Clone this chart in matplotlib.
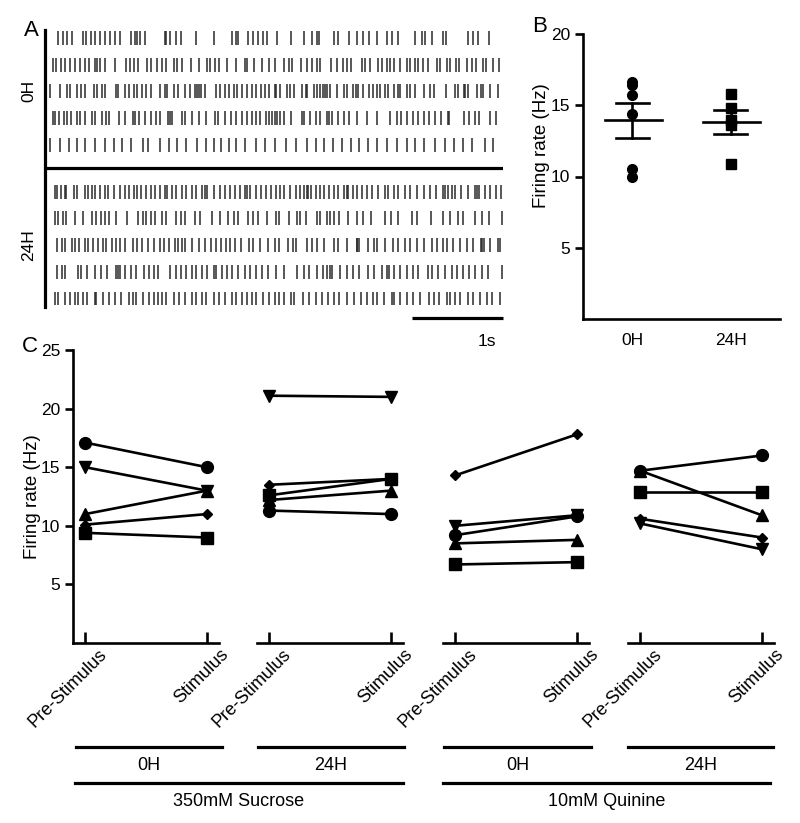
import numpy as np
import matplotlib
matplotlib.use("Agg")
import matplotlib.pyplot as plt
from matplotlib.lines import Line2D
from matplotlib.transforms import ScaledTranslation

plt.rcParams['font.family'] = ['Liberation Sans', 'DejaVu Sans']

# ---------------- Panel A: spike rasters (times in s) ----------------
spikes_0h = [
    [0.09,0.14,0.19,0.24,0.36,0.40,0.45,0.50,0.55,0.60,0.66,0.71,0.77,0.89,0.93,0.96,0.99,1.04,1.26,1.28,1.32,1.38,1.44,1.60,1.80,2.00,2.05,2.07,2.18,2.23,2.29,2.34,2.39,2.49,2.65,2.79,2.88,2.93,2.96,3.12,3.17,3.29,3.37,3.44,3.51,3.59,3.71,3.76,3.83,4.01,4.09,4.12,4.20,4.32,4.35,4.60,4.65,4.71,4.83],
    [0.03,0.07,0.12,0.17,0.22,0.28,0.33,0.38,0.43,0.49,0.52,0.55,0.61,0.72,0.83,0.88,0.92,0.97,1.07,1.11,1.18,1.23,1.27,1.36,1.40,1.45,1.55,1.64,1.73,1.76,1.81,1.86,1.95,2.04,2.14,2.17,2.24,2.33,2.41,2.47,2.57,2.63,2.66,2.76,2.82,2.88,2.93,2.97,3.09,3.15,3.22,3.27,3.31,3.43,3.46,3.52,3.61,3.65,3.70,3.74,3.78,3.85,3.93,3.96,4.01,4.05,4.10,4.16,4.25,4.29,4.36,4.40,4.46,4.50,4.58,4.64,4.68,4.76,4.79,4.87,4.94],
    [0.00,0.11,0.19,0.22,0.30,0.34,0.39,0.48,0.52,0.57,0.60,0.73,0.75,0.82,0.87,0.92,0.96,1.01,1.06,1.11,1.21,1.26,1.29,1.36,1.41,1.48,1.54,1.59,1.62,1.64,1.66,1.70,1.83,1.87,1.92,1.97,2.02,2.06,2.11,2.17,2.22,2.26,2.32,2.36,2.41,2.47,2.48,2.53,2.60,2.64,2.68,2.77,2.81,2.82,2.90,2.93,2.97,3.00,3.02,3.05,3.08,3.15,3.23,3.26,3.33,3.36,3.39,3.44,3.51,3.55,3.59,3.63,3.68,3.72,3.78,3.83,3.85,3.92,3.96,4.01,4.11,4.18,4.22,4.35,4.45,4.49,4.55,4.56,4.60,4.69,4.74,4.76,4.84,4.93],
    [0.03,0.06,0.10,0.15,0.19,0.23,0.30,0.33,0.39,0.46,0.50,0.57,0.62,0.65,0.76,0.82,0.91,0.93,0.98,1.04,1.11,1.17,1.21,1.30,1.32,1.34,1.45,1.48,1.56,1.64,1.71,1.81,1.85,1.92,1.99,2.04,2.11,2.17,2.22,2.26,2.31,2.38,2.41,2.44,2.47,2.49,2.53,2.57,2.65,2.77,2.79,2.86,2.92,2.97,3.05,3.07,3.10,3.17,3.23,3.29,3.37,3.48,3.59,3.74,3.81,3.86,3.92,3.99,4.05,4.11,4.17,4.23,4.30,4.37,4.39,4.55,4.61,4.67,4.72,4.84,4.90],
    [0.00,0.11,0.21,0.30,0.39,0.49,0.61,0.70,0.79,0.89,1.02,1.08,1.21,1.31,1.40,1.50,1.62,1.71,1.80,1.88,1.97,2.05,2.14,2.26,2.36,2.47,2.59,2.70,2.82,2.92,3.01,3.11,3.21,3.31,3.40,3.50,3.60,3.70,3.81,3.92,4.01,4.11,4.23,4.34,4.44,4.54,4.64,4.78,4.87],
]
spikes_24h = [
    [0.05,0.08,0.12,0.16,0.18,0.26,0.30,0.39,0.42,0.46,0.50,0.55,0.60,0.64,0.70,0.77,0.82,0.87,0.92,0.96,1.00,1.06,1.11,1.15,1.21,1.26,1.29,1.34,1.38,1.45,1.50,1.56,1.61,1.67,1.70,1.73,1.80,1.87,1.92,1.98,2.03,2.09,2.14,2.17,2.20,2.26,2.32,2.37,2.43,2.48,2.53,2.57,2.64,2.70,2.75,2.79,2.82,2.84,2.87,2.92,2.97,3.01,3.07,3.12,3.17,3.23,3.26,3.28,3.33,3.38,3.43,3.49,3.54,3.61,3.68,3.72,3.78,3.83,3.90,3.96,4.04,4.11,4.18,4.24,4.32,4.34,4.38,4.42,4.45,4.52,4.60,4.67,4.69,4.72,4.78,4.84,4.90,4.96],
    [0.05,0.09,0.14,0.18,0.27,0.36,0.46,0.51,0.56,0.60,0.65,0.73,0.85,0.97,1.02,1.06,1.11,1.15,1.23,1.28,1.39,1.44,1.48,1.59,1.65,1.78,1.87,1.96,2.02,2.07,2.18,2.23,2.29,2.39,2.48,2.52,2.63,2.71,2.75,2.81,2.93,2.97,3.04,3.08,3.12,3.18,3.28,3.38,3.44,3.53,3.68,3.75,3.83,3.98,4.03,4.19,4.32,4.40,4.49,4.54,4.67,4.75,4.83,4.97],
    [0.08,0.13,0.17,0.24,0.28,0.32,0.38,0.42,0.47,0.53,0.58,0.62,0.68,0.73,0.77,0.82,0.91,0.96,1.01,1.08,1.14,1.21,1.25,1.31,1.37,1.41,1.45,1.48,1.56,1.64,1.70,1.77,1.82,1.88,1.94,1.98,2.03,2.10,2.19,2.23,2.31,2.40,2.47,2.52,2.62,2.67,2.70,2.82,2.88,2.93,3.01,3.12,3.17,3.27,3.37,3.38,3.40,3.50,3.56,3.59,3.68,3.77,3.83,3.90,3.96,4.03,4.11,4.20,4.25,4.32,4.36,4.43,4.51,4.58,4.65,4.74,4.75,4.77,4.84,4.93,4.95],
    [0.08,0.13,0.17,0.31,0.34,0.41,0.49,0.56,0.63,0.73,0.75,0.77,0.82,0.89,0.95,1.03,1.09,1.14,1.19,1.32,1.38,1.44,1.49,1.56,1.61,1.67,1.73,1.80,1.83,1.89,1.95,2.00,2.07,2.14,2.20,2.26,2.33,2.40,2.48,2.57,2.71,2.79,2.85,2.93,3.00,3.04,3.08,3.10,3.19,3.26,3.33,3.40,3.50,3.56,3.65,3.71,3.73,3.78,3.85,3.92,3.99,4.05,4.16,4.20,4.27,4.34,4.42,4.47,4.54,4.61,4.67,4.75,4.82,4.97],
    [0.05,0.09,0.17,0.22,0.27,0.31,0.36,0.41,0.49,0.51,0.58,0.65,0.71,0.78,0.87,0.91,0.95,1.02,1.09,1.14,1.19,1.23,1.28,1.36,1.42,1.48,1.56,1.61,1.67,1.72,1.80,1.86,1.92,2.00,2.04,2.11,2.17,2.22,2.27,2.34,2.41,2.47,2.52,2.57,2.65,2.68,2.78,2.85,2.92,2.99,3.06,3.12,3.18,3.26,3.34,3.42,3.48,3.55,3.59,3.67,3.76,3.78,3.85,3.92,3.99,4.07,4.17,4.22,4.28,4.36,4.40,4.45,4.51,4.59,4.65,4.73,4.80,4.86,4.95],
]
raster_groups = ['0H', '24H']
scale_bar_s = 1.0

# ---------------- Panel B ----------------
b_groups = ['0H', '24H']
b_0h = [16.6, 16.4, 15.7, 14.4, 10.5, 10.0]
b_24h = [15.8, 14.8, 14.0, 13.6, 10.9]

# ---------------- Panel C ----------------
c_conditions = ['Pre-Stimulus', 'Stimulus']
c_markers = ['v', '^', 'D', 's', 'o']
suc_0h_pre = [15.0, 11.0, 10.1, 9.4, 17.1]
suc_0h_post = [13.0, 13.0, 11.0, 9.0, 15.0]
suc_24h_pre = [21.1, 12.2, 13.5, 12.6, 11.3]
suc_24h_post = [21.0, 13.0, 14.0, 14.0, 11.0]
qui_0h_pre = [10.0, 8.5, 14.3, 6.7, 9.2]
qui_0h_post = [10.9, 8.8, 17.8, 6.9, 10.8]
qui_24h_pre = [10.2, 14.7, 10.6, 12.9, 14.7]
qui_24h_post = [8.0, 10.9, 9.0, 12.9, 16.0]
c_time_labels = ['0H', '24H', '0H', '24H']
c_solutions = ['350mM Sucrose', '10mM Quinine']

W, H = 800, 823
fig = plt.figure(figsize=(W / 100, H / 100), dpi=100)


def box(x0, y0, x1, y1):
    return [x0 / W, 1 - y1 / H, (x1 - x0) / W, (y1 - y0) / H]


def fx(x):
    return x / W


def fy(y):
    return 1 - y / H


LW = 1.9
FS = 12.5
LAB = 13.5

# ---------- A ----------
axA = fig.add_axes(box(45, 30, 503, 307))
offsets = [0, 1, 2, 3, 4, 5.75, 6.75, 7.75, 8.75, 9.75]
allspikes = spikes_0h + spikes_24h
axA.eventplot([np.array(s) for s in allspikes], lineoffsets=offsets,
              linelengths=0.52, linewidths=1.1, colors='#2a2a2a')
axA.set_xlim(-0.055, 4.98)
axA.set_ylim(10.07, -0.3)
for s in ['top', 'right', 'bottom']:
    axA.spines[s].set_visible(False)
axA.spines['left'].set_linewidth(LW + 0.4)
axA.set_xticks([])
axA.set_yticks([])
axA.axhline(4.86, color='black', lw=LW + 0.4)
axA.plot([4.98 - scale_bar_s, 4.98], [10.49, 10.49], color='black', lw=LW + 0.4,
         clip_on=False, solid_capstyle='butt')
axA.text(4.8, 11.38, '1s', ha='center', va='center', fontsize=FS)
axA.text(-0.235, 2, raster_groups[0], rotation=90, ha='center', va='center', fontsize=FS)
axA.text(-0.235, 7.75, raster_groups[1], rotation=90, ha='center', va='center', fontsize=FS)

# ---------- B ----------
axB = fig.add_axes(box(583, 34, 780, 319))
for i, (vals, mk, ms) in enumerate([(b_0h, 'o', 7), (b_24h, 's', 6.5)]):
    v = np.array(vals)
    m = v.mean()
    sem = v.std(ddof=1) / np.sqrt(len(v))
    axB.plot(np.full(len(v), i), v, ls='none', marker=mk, ms=ms, color='black')
    axB.plot([i - 0.28, i + 0.3], [m, m], color='black', lw=LW)
    axB.plot([i, i], [m - sem, m + sem], color='black', lw=LW)
    axB.plot([i - 0.17, i + 0.17], [m + sem, m + sem], color='black', lw=LW)
    axB.plot([i - 0.17, i + 0.17], [m - sem, m - sem], color='black', lw=LW)
axB.set_xlim(-0.5, 1.5)
axB.set_ylim(0, 20)
axB.set_yticks([5, 10, 15, 20])
axB.set_xticks([0, 1])
axB.set_xticklabels(b_groups, fontsize=FS)
axB.tick_params(axis='x', length=0, pad=10)
axB.tick_params(axis='y', length=6, width=LW, direction='out', labelsize=FS, pad=3)
for s in ['top', 'right']:
    axB.spines[s].set_visible(False)
for s in ['left', 'bottom']:
    axB.spines[s].set_linewidth(LW)
axB.set_ylabel('Firing rate (Hz)', fontsize=LAB)
axB.yaxis.set_label_coords(-0.165, 0.607)

# ---------- C ----------
c_data = [(suc_0h_pre, suc_0h_post), (suc_24h_pre, suc_24h_post),
          (qui_0h_pre, qui_0h_post), (qui_24h_pre, qui_24h_post)]
c_lefts = [73, 257, 443, 628]
msizes = {'o': 8.5, 's': 8.0, 'D': 5.5, '^': 8.5, 'v': 8.5}
shift = ScaledTranslation(0.19, 0.0, fig.dpi_scale_trans)
for k, (pre, post) in enumerate(c_data):
    ax = fig.add_axes(box(c_lefts[k], 350, c_lefts[k] + 146, 643))
    for j, mk in enumerate(c_markers):
        ax.plot([0, 1], [pre[j], post[j]], color='black', lw=LW, marker=mk,
                ms=msizes[mk], mfc='black', mec='black', clip_on=False)
    ax.set_xlim(-0.1, 1.1)
    ax.set_ylim(0, 25)
    ax.set_xticks([0, 1])
    ax.set_xticklabels(c_conditions, rotation=45, ha='right', va='center',
                       rotation_mode='anchor', fontsize=13)
    ax.tick_params(axis='x', direction='in', length=8, width=LW, pad=6.5)
    for lbl in ax.get_xticklabels():
        lbl.set_transform(lbl.get_transform() + shift)
    for s in ['top', 'right']:
        ax.spines[s].set_visible(False)
    ax.spines['bottom'].set_linewidth(LW)
    if k == 0:
        ax.spines['left'].set_linewidth(LW)
        ax.set_yticks([5, 10, 15, 20, 25])
        ax.tick_params(axis='y', length=6, width=LW, direction='out', labelsize=FS, pad=3)
        ax.set_ylabel('Firing rate (Hz)', fontsize=LAB)
        ax.yaxis.set_label_coords(-0.22, 0.5)
    else:
        ax.spines['left'].set_visible(False)
        ax.set_yticks([])

# brackets below panel C
bracket_x = [(76, 222), (258, 404), (444, 591), (628, 773)]
for (x0, x1), lab in zip(bracket_x, c_time_labels):
    fig.add_artist(Line2D([fx(x0), fx(x1)], [fy(747), fy(747)], color='black', lw=LW + 0.4))
    fig.text(fx((x0 + x1) / 2), fy(765), lab, ha='center', va='center', fontsize=13)
long_x = [(75, 403), (443, 770)]
for (x0, x1), lab in zip(long_x, c_solutions):
    fig.add_artist(Line2D([fx(x0), fx(x1)], [fy(783), fy(783)], color='black', lw=LW + 0.4))
    fig.text(fx((x0 + x1) / 2), fy(802), lab, ha='center', va='center', fontsize=13)

# panel letters
fig.text(fx(31), fy(30), 'A', ha='center', va='center', fontsize=16)
fig.text(fx(540), fy(27), 'B', ha='center', va='center', fontsize=16)
fig.text(fx(30), fy(346), 'C', ha='center', va='center', fontsize=16)

fig.savefig('out.png', dpi=100)
